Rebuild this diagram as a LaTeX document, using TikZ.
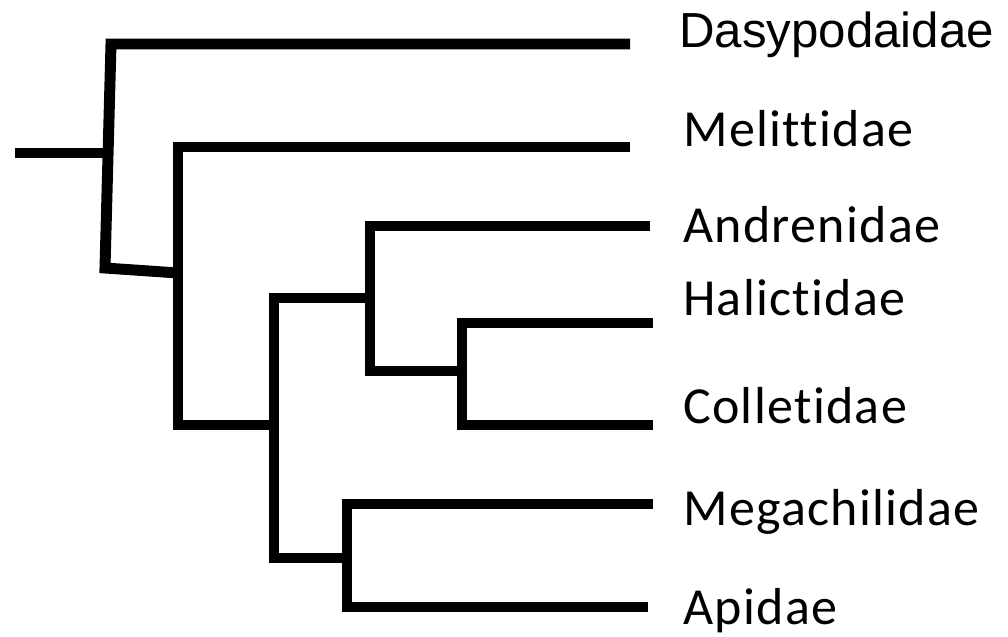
\documentclass[tikz,border=0pt]{standalone}
\usepackage{fontspec}
\setmainfont[Ligatures=NoCommon,LetterSpace=2.5]{Carlito}
\newfontfamily\arialfont{Liberation Sans}
\begin{document}
\begin{tikzpicture}[branch/.style={line width=7.8pt,line join=miter},
	taxon/.style={anchor=base west,inner sep=0pt,font=\fontsize{37}{44}\selectfont}]
	\useasboundingbox (0,0) rectangle (25.2,15.9);
	% tips
	\coordinate (tDas) at (15.75,14.8);
	\coordinate (tMel) at (15.75,12.225);
	\coordinate (tAnd) at (16.25,10.25);
	\coordinate (tHal) at (16.325,7.825);
	\coordinate (tCol) at (16.325,5.275);
	\coordinate (tMeg) at (16.325,3.3);
	\coordinate (tApi) at (16.2,0.725);
	% inner nodes
	\coordinate (root) at (0.375,12.075);
	\coordinate (nA) at (2.7,12.075);
	\coordinate (aTop) at (2.775,14.8);
	\coordinate (aBot) at (2.625,9.2);
	\coordinate (nB) at (4.45,9.075);
	\coordinate (nC) at (6.85,5.275);
	\coordinate (nD) at (9.25,8.45);
	\coordinate (nE) at (11.55,6.625);
	\coordinate (nF) at (8.675,1.95);
	% names
	\node[taxon,font=\arialfont\fontsize{35}{42}\selectfont] (das) at (16.975,14.7) {Dasypodaidae};
	\node[taxon] (mel) at (17.075,12.225) {Melittidae};
	\node[taxon] (and) at (17.075,9.825) {Andrenidae};
	\node[taxon] (hal) at (17.075,8.0) {Halictidae};
	\node[taxon] (col) at (17.075,5.3) {Colletidae};
	\node[taxon] (meg) at (17.075,2.775) {Megachilidae};
	\node[taxon] (api) at (17.075,0.3) {Apidae};
	% tree
	\draw[branch](root)--(nA);
	\draw[branch](tDas)--(aTop)--(aBot)--(nB);
	\draw[branch](tMel)-|(nB)|-(nC);
	\draw[branch](nD)-|(nC)|-(nF);
	\draw[branch](tAnd)-|(nD)|-(nE);
	\draw[branch](tHal)-|(nE)|-(tCol);
	\draw[branch](tMeg)-|(nF)|-(tApi);
\end{tikzpicture}
\end{document}
